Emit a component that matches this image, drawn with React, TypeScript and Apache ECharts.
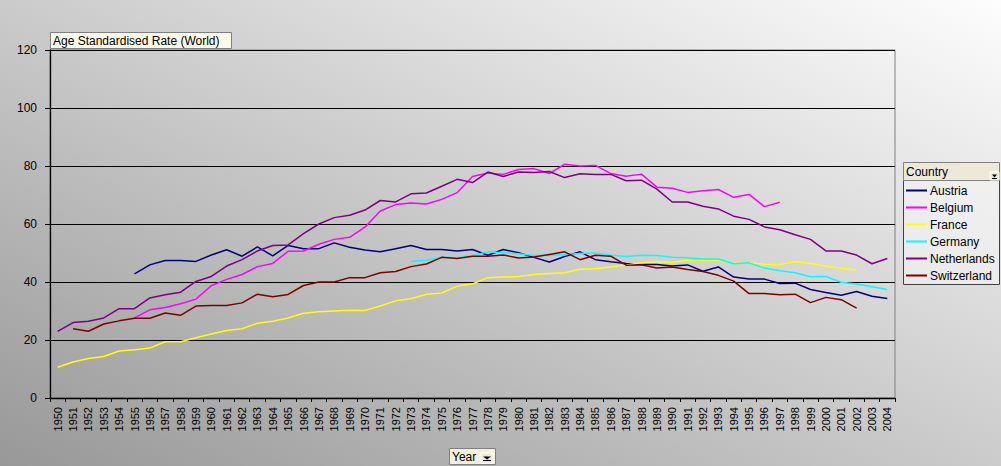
import React, { useEffect, useRef } from "react";
import * as echarts from "echarts";

const years: string[] = [];
for (let y = 1950; y <= 2004; y++) years.push(String(y));

const N = null;
const austria = [N, N, N, N, N, 42.8, 45.9, 47.4, 47.4, 47.1, 49.3, 51.1, 48.9, 52.1, 49.0, 52.6, 51.5, 51.5, 53.5, 52.0, 51.0, 50.4, 51.5, 52.6, 51.2, 51.2, 50.7, 51.2, 49.2, 51.2, 50.1, 48.5, 46.9, 48.8, 50.4, 47.7, 47.0, 46.4, 46.0, 46.0, 45.5, 45.9, 43.7, 45.2, 41.7, 41.0, 41.0, 39.5, 39.6, 37.4, 36.4, 35.4, 36.7, 35.1, 34.3];
const belgium = [N, N, N, N, N, 27.6, 30.4, 31.2, 32.5, 34.1, 38.7, 40.9, 42.6, 45.3, 46.4, 50.6, 50.7, 53.0, 54.7, 55.4, 58.9, 64.5, 66.7, 67.2, 66.9, 68.5, 70.8, 76.4, 77.6, 77.1, 78.8, 79.1, 77.4, 80.6, 80.0, 80.2, 77.4, 76.5, 77.2, 72.7, 72.3, 70.9, 71.5, 71.9, 69.2, 70.2, 66.0, 67.5, N, N, N, N, N, N, N];
const france = [10.6, 12.4, 13.6, 14.3, 16.2, 16.6, 17.2, 19.4, 19.4, 20.8, 22.1, 23.3, 23.9, 25.8, 26.5, 27.6, 29.2, 29.7, 30.0, 30.3, 30.2, 31.7, 33.5, 34.2, 35.8, 36.2, 38.6, 39.3, 41.5, 41.7, 41.9, 42.6, 42.9, 43.2, 44.4, 44.6, 45.2, 45.9, 46.6, 47.0, 46.7, 47.5, 47.5, 47.4, 46.4, 46.6, 46.1, 46.0, 47.0, 46.4, 45.5, 44.7, 44.1, N, N];
const germany = [N, N, N, N, N, N, N, N, N, N, N, N, N, N, N, N, N, N, N, N, N, N, N, 47.1, 47.5, 48.6, 48.4, 49.1, 50.4, 50.1, 49.7, 49.1, 49.1, 49.5, 49.8, 50.0, 49.2, 48.8, 49.2, 49.1, 48.5, 48.4, 47.9, 47.9, 46.3, 46.6, 44.8, 43.9, 43.2, 41.8, 41.9, 39.9, 39.3, 38.4, 37.4];
const netherlands = [23.0, 26.0, 26.5, 27.6, 30.8, 30.8, 34.5, 35.6, 36.5, 40.2, 41.9, 45.5, 47.7, 50.7, 52.6, 52.8, 56.7, 60.0, 62.2, 63.0, 64.8, 68.1, 67.6, 70.4, 70.7, 73.0, 75.4, 74.3, 77.9, 76.4, 77.9, 77.8, 78.1, 76.0, 77.3, 77.1, 77.1, 74.9, 75.1, 72.0, 67.6, 67.6, 66.1, 65.2, 62.7, 61.6, 59.0, 58.0, 56.3, 54.7, 50.7, 50.7, 49.3, 46.3, 48.1];
const switzerland = [N, 23.9, 23.0, 25.5, 26.6, 27.5, 27.5, 29.3, 28.5, 31.7, 31.9, 31.9, 32.8, 35.8, 34.9, 35.7, 38.8, 40.0, 40.0, 41.5, 41.5, 43.2, 43.6, 45.3, 46.2, 48.5, 48.1, 48.9, 48.9, 49.3, 48.3, 48.6, 49.5, 50.4, 47.7, 49.2, 48.9, 45.8, 45.9, 44.8, 45.2, 44.3, 43.6, 42.3, 40.3, 36.0, 36.0, 35.6, 35.8, 32.9, 34.7, 33.9, 31.0, N, N];

const countries = ["Austria", "Belgium", "France", "Germany", "Netherlands", "Switzerland"];
const seriesData = [austria, belgium, france, germany, netherlands, switzerland];
const colors = ["#000080", "#FF00FF", "#FFFF00", "#00FFFF", "#800080", "#800000"];

const FONT = "Liberation Sans, Arial, sans-serif";

function arrowParts(x: number, y: number, w: number, h: number) {
  return [
    { type: "rect", z: 12, shape: { x, y, width: w, height: h }, style: { fill: "#ece9d8", stroke: "#ffffff", lineWidth: 1 } },
    { type: "polygon", z: 13, shape: { points: [[x + 2, y + h / 2 - 1.5], [x + w - 2, y + h / 2 - 1.5], [x + w / 2, y + h / 2 + 1.5]] }, style: { fill: "#000" } },
    { type: "line", z: 13, shape: { x1: x + 2, y1: y + h / 2 + 2.5, x2: x + w - 2, y2: y + h / 2 + 2.5 }, style: { stroke: "#000", lineWidth: 1 } },
  ];
}

export default function App() {
  const ref = useRef<HTMLDivElement>(null);
  useEffect(() => {
    if (!ref.current) return;
    const chart = echarts.init(ref.current, null, { renderer: "svg" });
    chart.setOption({
      animation: false,
      backgroundColor: "transparent",
      textStyle: { fontFamily: FONT },
      grid: { left: 50, right: 106, top: 50, bottom: 68, show: true, borderColor: "#808080", borderWidth: 1, backgroundColor: "transparent" },
      xAxis: {
        type: "category",
        data: years,
        boundaryGap: true,
        axisLine: { show: true, lineStyle: { color: "#000", width: 1.3 } },
        axisTick: { show: true, interval: 0, length: 4, lineStyle: { color: "#000" } },
        axisLabel: { interval: 0, rotate: 90, fontSize: 11, color: "#000", margin: 9, fontFamily: FONT },
        splitLine: { show: false },
      },
      yAxis: {
        type: "value",
        min: 0,
        max: 120,
        interval: 20,
        axisLine: { show: true, lineStyle: { color: "#000", width: 1.3 } },
        axisTick: { show: true, length: 5, lineStyle: { color: "#000" } },
        axisLabel: { fontSize: 12, color: "#000", margin: 13, fontFamily: FONT },
        splitLine: { show: true, lineStyle: { color: "#000", width: 1.2 } },
      },
      legend: {
        show: true,
        z: 30,
        zlevel: 0,
        orient: "vertical",
        left: 906,
        top: 182,
        itemWidth: 21,
        itemHeight: 2,
        itemGap: 0,
        icon: "rect",
        selectedMode: false,
        padding: 0,
        inactiveColor: "#000",
        textStyle: { fontSize: 12, color: "#000", lineHeight: 17, fontFamily: FONT, padding: [0, 0, 0, -2] },
        data: countries,
      },
      series: countries.map((name, i) => ({
        name,
        type: "line",
        data: seriesData[i],
        symbol: "none",
        connectNulls: false,
        lineStyle: { color: colors[i], width: 1.5 },
        itemStyle: { color: colors[i] },
      })),
      graphic: [
        { type: "rect", z: 10, shape: { x: 50.5, y: 32.5, width: 181, height: 16 }, style: { fill: "#fafae6", stroke: "#808080", lineWidth: 1 } },
        { type: "text", z: 11, x: 53, y: 41, style: { text: "Age Standardised Rate (World)", font: "12px " + FONT, fill: "#000", textVerticalAlign: "middle" } },
        { type: "rect", z: 1, shape: { x: 903.5, y: 180.5, width: 96, height: 104 }, style: { fill: "rgba(245,245,245,0.55)", stroke: "#404040", lineWidth: 1 } },
        { type: "rect", z: 10, shape: { x: 903.5, y: 162.5, width: 96, height: 18 }, style: { fill: "#ece9d8", stroke: "#808080", lineWidth: 1 } },
        { type: "text", z: 11, x: 906, y: 172, style: { text: "Country", font: "12px " + FONT, fill: "#000", textVerticalAlign: "middle" } },
        ...arrowParts(990, 172, 9, 8),
        { type: "rect", z: 10, shape: { x: 449.5, y: 448.5, width: 46, height: 16 }, style: { fill: "#f2f0dc", stroke: "#808080", lineWidth: 1 } },
        { type: "text", z: 11, x: 452, y: 456.5, style: { text: "Year", font: "12px " + FONT, fill: "#000", textVerticalAlign: "middle" } },
        ...arrowParts(481, 453, 12, 10),
      ],
    });
    return () => chart.dispose();
  }, []);
  return (
    <div
      style={{
        position: "fixed",
        left: 0,
        top: 0,
        width: 1001,
        height: 466,
        background: "linear-gradient(to top right, #989898 0%, #cbcbcb 50%, #fdfdfd 100%)",
      }}
    >
      <div ref={ref} style={{ width: 1001, height: 466 }} />
    </div>
  );
}
